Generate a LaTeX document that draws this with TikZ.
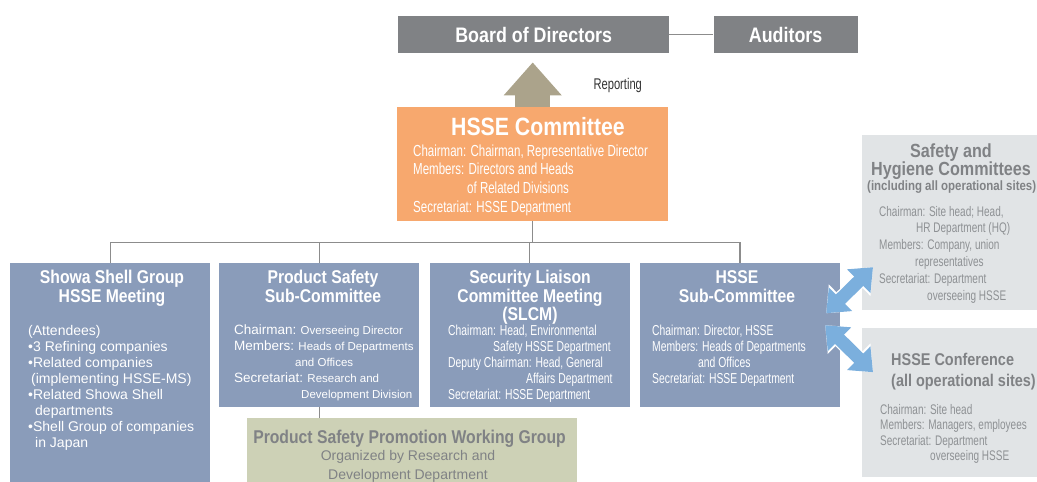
\documentclass[tikz,border=0pt]{standalone}
\usepackage{fontspec}
\setmainfont{Liberation Sans}
\newfontfamily\plainfont{Liberation Sans}
\newfontfamily\headfont{Liberation Sans}[FakeStretch=0.85]
\newfontfamily\bodyfont{Liberation Sans}[FakeStretch=0.72]
\usetikzlibrary{positioning,arrows.meta}

\definecolor{boardgrey}{HTML}{808285}
\definecolor{hsseorange}{HTML}{F7A86E}
\definecolor{reportbrown}{HTML}{ABA38B}
\definecolor{subblue}{HTML}{8A9CBA}
\definecolor{promogreen}{HTML}{CDD1B6}
\definecolor{sitegrey}{HTML}{E1E4E6}
\definecolor{arrowblue}{HTML}{7BAFDD}
\definecolor{linegrey}{HTML}{8C8C8C}
\definecolor{textgrey}{HTML}{808285}
\definecolor{bodygrey}{HTML}{8E9194}

\newcommand{\lab}[1]{{\plainfont\fontsize{13.5}{16}\selectfont #1}}

\begin{document}
\begin{tikzpicture}[x=1pt,y=-1pt,
    top box/.style={fill=boardgrey,text=white,inner sep=0pt,minimum height=37pt,
                    font=\headfont\bfseries\fontsize{21}{24}\selectfont},
    sub box/.style={fill=subblue,inner sep=0pt,minimum width=200pt,minimum height=144pt},
    site box/.style={fill=sitegrey,inner sep=0pt,minimum width=180pt,anchor=north west},
    head text/.style={text=white,inner sep=0pt,align=center,anchor=north,
                      font=\headfont\bfseries\fontsize{18.5}{19}\selectfont},
    small text/.style={text=white,inner sep=0pt,align=left,anchor=north west,
                       font=\bodyfont\fontsize{14.4}{16}\selectfont},
    conn/.style={draw=linegrey,line width=1.3pt},
    link/.style={draw=arrowblue,line width=13pt,
                 {Triangle[width=32pt,length=20pt]}-{Triangle[width=32pt,length=20pt]},
                 preaction={draw=white,line width=15.5pt,
                   {Triangle[width=36pt,length=22pt]}-{Triangle[width=36pt,length=22pt]}}}]
  \useasboundingbox (0,0) rectangle (1037,482);

  % board and auditors
  \node[top box,minimum width=271pt,anchor=north west] (board) at (398,16) {Board of Directors};
  \node[top box,minimum width=144pt] (auditors) [right=44pt of board] {Auditors};
  \draw[conn] (board) -- (auditors);

  % committee
  \node[fill=hsseorange,minimum width=271pt,minimum height=114pt,inner sep=0pt,
        anchor=north west] (hsse) at (397,107) {};
  \node[head text,font=\headfont\bfseries\fontsize{25}{28}\selectfont] (hssetitle) at (538,117)
    {HSSE Committee};
  \node[small text,font=\bodyfont\fontsize{16}{18.7}\selectfont] (hssetext) at (413,144.3)
    {Chairman: Chairman, Representative Director\\
     Members: Directors and Heads\\
     \hspace*{54pt}of Related Divisions\\
     Secretariat: HSSE Department};
  \draw[reportbrown,line width=35pt,-{Triangle[width=56pt,length=33pt]},shorten >=9pt]
    (hsse.north) -- (hsse.north |- board.south)
    node[pos=0.4,anchor=west,xshift=40pt,text=black!80,
         font=\bodyfont\fontsize{15.5}{16}\selectfont] (report) {Reporting};

  % sub-committees
  \node[sub box,minimum height=219pt,anchor=north west] (showa) at (10,263) {};
  \node[sub box,anchor=north west] (product) at (219,263) {};
  \node[sub box] (security) [right=10pt of product] {};
  \node[sub box] (subhsse) [right=10pt of security] {};

  \coordinate (bus) at ([yshift=-21pt]hsse.south);
  \draw[conn] (hsse) -- (bus) -| (showa);
  \draw[conn] (bus) -| (product);
  \draw[conn] (bus) -| (security);
  \draw[conn] (bus) -| (subhsse);

  \node[head text] (showatitle) at (112,270.3) {Showa Shell Group\\HSSE Meeting};
  \node[small text,font=\plainfont\fontsize{14}{16}\selectfont] (showatext) at (28,325)
    {(Attendees)\\
     •3 Refining companies\\
     •Related companies\\
     \hspace*{3pt}(implementing HSSE-MS)\\
     •Related Showa Shell\\
     \hspace*{7pt}departments\\
     •Shell Group of companies\\
     \hspace*{7pt}in Japan};

  \node[head text] (producttitle) at (323,270.3) {Product Safety\\Sub-Committee};
  \node[small text,font=\plainfont\fontsize{11.5}{16}\selectfont] (producttext) at (234,325)
    {\lab{Chairman:} Overseeing Director\\
     \lab{Members:} Heads of Departments\\
     \hspace*{61pt}and Offices\\
     \lab{Secretariat:} Research and\\
     \hspace*{67pt}Development Division};

  \node[head text,font=\headfont\bfseries\fontsize{18.5}{18.5}\selectfont] (securitytitle)
    at (530,270.2) {Security Liaison\\Committee Meeting\\(SLCM)};
  \node[small text] (securitytext) at (448,324.7)
    {Chairman: Head, Environmental\\
     \hspace*{45pt}Safety HSSE Department\\
     Deputy Chairman: Head, General\\
     \hspace*{78pt}Affairs Department\\
     Secretariat: HSSE Department};

  \node[head text] (subhssetitle) at (737,270.3) {HSSE\\Sub-Committee};
  \node[small text] (subhssetext) at (652,324.7)
    {Chairman: Director, HSSE\\
     Members: Heads of Departments\\
     \hspace*{46pt}and Offices\\
     Secretariat: HSSE Department};

  % working group
  \node[fill=promogreen,minimum width=330pt,minimum height=64pt,inner sep=0pt,
        anchor=north west] (promo) at (247,418) {};
  \draw[conn] (product) -- (product |- promo.north);
  \node[head text,text=textgrey] (promotitle) at (409.5,429.4)
    {Product Safety Promotion Working Group};
  \node[inner sep=0pt,align=center,anchor=north,text=textgrey,
        font=\plainfont\fontsize{14}{19}\selectfont] (promotext) at (408,449.8)
    {Organized by Research and\\Development Department};

  % site committees
  \node[site box,minimum height=175pt] (hygiene) at (862,135) {};
  \node[site box,minimum height=149pt] (conference) at (862,328) {};

  \node[head text,text=textgrey,font=\headfont\bfseries\fontsize{19}{18}\selectfont]
    (hygienetitle) at (951,144) {Safety and\\Hygiene Committees};
  \node[head text,text=textgrey,anchor=north west,
        font=\headfont\bfseries\fontsize{13.5}{16}\selectfont] (hygienesites) at (867,181)
    {(including all operational sites)};
  \node[small text,text=bodygrey,font=\bodyfont\fontsize{13.9}{16.8}\selectfont]
    (hygienetext) at (879,205.9)
    {Chairman: Site head; Head,\\
     \hspace*{37pt}HR Department (HQ)\\
     Members: Company, union\\
     \hspace*{36pt}representatives\\
     Secretariat: Department\\
     \hspace*{48pt}overseeing HSSE};

  \node[head text,text=textgrey,align=left,anchor=north west,
        font=\headfont\bfseries\fontsize{17}{21}\selectfont] (conferencetitle) at (891,352.7)
    {HSSE Conference\\(all operational sites)};
  \node[small text,text=bodygrey,font=\bodyfont\fontsize{13.9}{15.5}\selectfont]
    (conferencetext) at (880,403.9)
    {Chairman: Site head\\
     Members: Managers, employees\\
     Secretariat: Department\\
     \hspace*{50pt}overseeing HSSE};

  \draw[link] ([xshift=-14pt,yshift=22pt]subhsse.east) -- ([xshift=11pt,yshift=-44.5pt]hygiene.west);
  \draw[link] ([xshift=-15pt,yshift=10pt]subhsse.east) -- ([xshift=11pt,yshift=30.5pt]conference.west);
\end{tikzpicture}
\end{document}
